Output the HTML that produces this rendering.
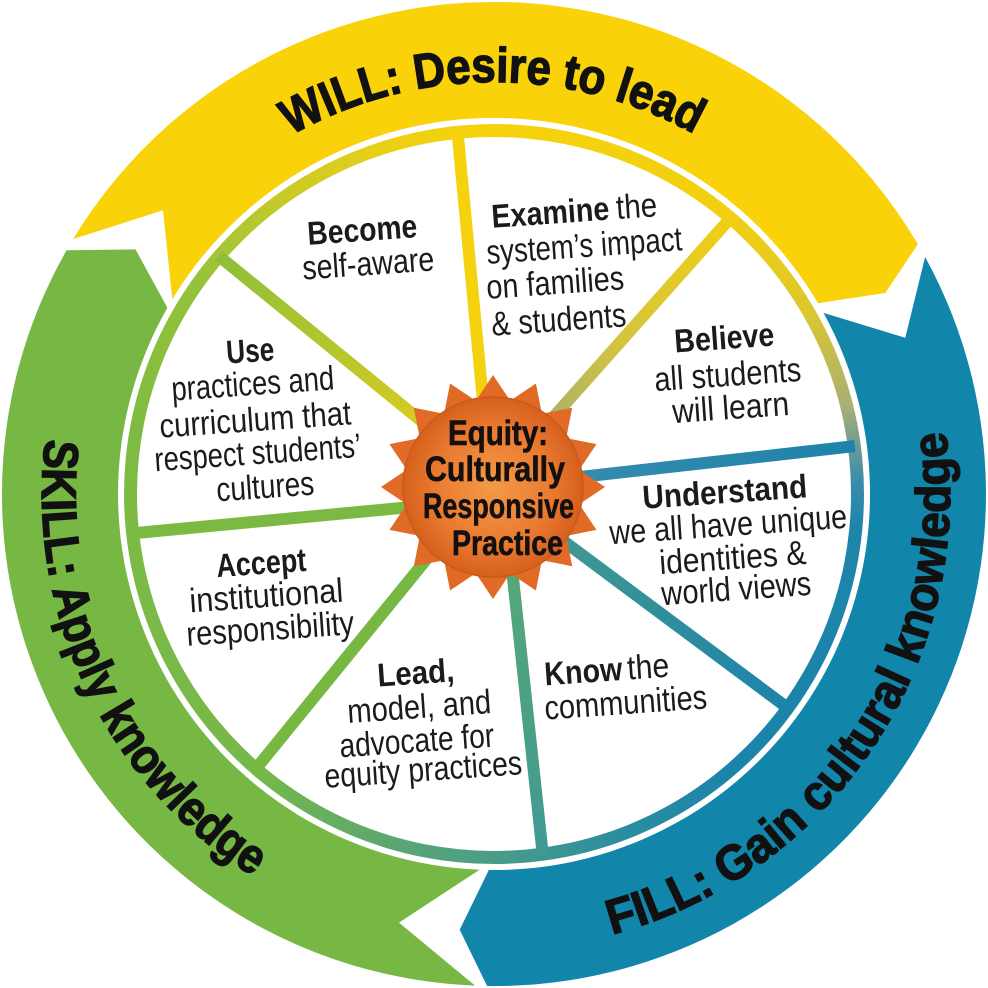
<!DOCTYPE html>
<html><head><meta charset="utf-8">
<style>
html,body{margin:0;padding:0;background:#fff;}
#wrap{position:relative;width:988px;height:988px;overflow:hidden;background:#fff;}
svg{position:absolute;left:0;top:0;}
#ring{position:absolute;left:124px;top:124px;width:740px;height:740px;border-radius:50%;
background:conic-gradient(from 0deg,#F6D20C 0deg,#F2D010 40deg,#DCC72C 60deg,#A9AF77 76deg,#3A8CAA 88deg,#1D84AA 96deg,#1C84AA 140deg,#2B8D9F 160deg,#4A9C8A 180deg,#5FA96C 200deg,#76B84A 220deg,#7EBB42 280deg,#95C23A 305deg,#C8CA28 325deg,#EDD013 345deg,#F6D20C 360deg);}
#inner{position:absolute;left:137px;top:137px;width:714px;height:714px;border-radius:50%;background:#fff;}
.b{font-family:"Liberation Sans",sans-serif;font-weight:bold;font-size:33px;fill:#1c1a1b;}
.r{font-family:"Liberation Sans",sans-serif;font-weight:normal;font-size:34px;fill:#1c1a1b;}
.s{font-family:"Liberation Sans",sans-serif;font-weight:bold;font-size:35px;fill:#141010;stroke:#141010;stroke-width:0.6px;}
.band{font-family:"Liberation Sans",sans-serif;font-weight:bold;font-size:49px;fill:#111;stroke:#111;stroke-width:1.4px;}
</style></head><body>
<div id="wrap">
<svg width="988" height="988" viewBox="0 0 988 988">
  <defs>
    <path id="pWill" d="M291.1,135.4 A412,412 0 0,1 809.6,229.2"/>
    <path id="pSkill" d="M45.4,438.9 A452,452 0 0,0 339.4,918.7"/>
    <path id="pFill" d="M612.0,934.5 A456,456 0 0,0 922.5,338.0"/>
  </defs>
  <path d="M73.1,239.1 A492,492 0 0,1 917.9,244.3 L885.3,292.9 L818.0,303.2 A376,376 0 0,0 172.3,299.2 L163.0,210.3 Z" fill="#FAD20A"/>
  <path d="M925.1,257.0 A492,492 0 0,1 487.1,986.0 L459.7,929.7 L488.8,870.0 A376,376 0 0,0 823.5,312.9 L905.3,337.8 Z" fill="#1285AB"/>
  <path d="M475.1,985.6 A492,492 0 0,1 66.6,250.2 L135.5,249.4 L167.4,307.7 A376,376 0 0,0 479.6,869.7 L399.0,922.6 Z" fill="#76B843"/>
  <text class="band"><textPath href="#pWill" textLength="421" lengthAdjust="spacingAndGlyphs">WILL: Desire to lead</textPath></text>
  <text class="band"><textPath href="#pSkill" textLength="511" lengthAdjust="spacingAndGlyphs">SKILL: Apply knowledge</textPath></text>
  <text class="band"><textPath href="#pFill" textLength="660" lengthAdjust="spacingAndGlyphs">FILL: Gain cultural knowledge</textPath></text>
</svg>
<div id="ring"></div>
<div id="inner"></div>
<svg width="988" height="988" viewBox="0 0 988 988">
  <defs>
    <linearGradient id="g1" gradientUnits="userSpaceOnUse" x1="489.5" y1="470" x2="457.5" y2="131.8"><stop offset="0" stop-color="#F4D10F"/><stop offset="1" stop-color="#F6D20C"/></linearGradient>
    <linearGradient id="g2" gradientUnits="userSpaceOnUse" x1="501" y1="476" x2="730.9" y2="217.6"><stop offset="0" stop-color="#8FA38E"/><stop offset="0.5" stop-color="#D2C43E"/><stop offset="1" stop-color="#F2CF12"/></linearGradient>
    <linearGradient id="g3" gradientUnits="userSpaceOnUse" x1="500" y1="486" x2="854.9" y2="446.1"><stop offset="0" stop-color="#3A8FB0"/><stop offset="1" stop-color="#1E82AA"/></linearGradient>
    <linearGradient id="g4" gradientUnits="userSpaceOnUse" x1="499" y1="493" x2="788.2" y2="708.3"><stop offset="0" stop-color="#4A9E8A"/><stop offset="1" stop-color="#1D83AA"/></linearGradient>
    <linearGradient id="g5" gradientUnits="userSpaceOnUse" x1="503.5" y1="490" x2="542.8" y2="854.7"><stop offset="0" stop-color="#5DAA70"/><stop offset="1" stop-color="#3F9A92"/></linearGradient>
    <linearGradient id="g8" gradientUnits="userSpaceOnUse" x1="479.7" y1="468.6" x2="218.7" y2="255.9"><stop offset="0" stop-color="#EACF1A"/><stop offset="1" stop-color="#8EBF3A"/></linearGradient>
    <radialGradient id="sunG" cx="0.5" cy="0.5" r="0.5"><stop offset="0" stop-color="#F39A48"/><stop offset="0.65" stop-color="#EA7A30"/><stop offset="1" stop-color="#D5601D"/></radialGradient>
  </defs>
  <g stroke-width="12" stroke-linecap="butt">
    <line x1="489.5" y1="470" x2="457.5" y2="131.8" stroke="url(#g1)"/>
    <line x1="501" y1="476" x2="730.9" y2="217.6" stroke="url(#g2)"/>
    <line x1="500" y1="486" x2="854.9" y2="446.1" stroke="url(#g3)"/>
    <line x1="499" y1="493" x2="788.2" y2="708.3" stroke="url(#g4)"/>
    <line x1="503.5" y1="490" x2="542.8" y2="854.7" stroke="url(#g5)"/>
    <line x1="478" y1="496" x2="255.6" y2="769.1" stroke="#77B843"/>
    <line x1="485" y1="500" x2="132.1" y2="533.4" stroke="#7BBA42"/>
    <line x1="479.7" y1="468.6" x2="218.7" y2="255.9" stroke="url(#g8)"/>
  </g>
  <polygon fill="#E06A26" points="493,375 510.2,400.7 535.9,383.5 541.9,413.8 572.2,407.8 566.2,438.1 596.5,444.1 579.3,469.8 605,487 579.3,504.2 596.5,529.9 566.2,535.9 572.2,566.2 541.9,560.2 535.9,590.5 510.2,573.3 493,599 475.8,573.3 450.1,590.5 444.1,560.2 413.8,566.2 419.8,535.9 389.5,529.9 406.7,504.2 381,487 406.7,469.8 389.5,444.1 419.8,438.1 413.8,407.8 444.1,413.8 450.1,383.5 475.8,400.7"/>
  <circle cx="493" cy="487" r="90" fill="url(#sunG)" stroke="#C95A1C" stroke-width="1.5"/>
  <text class="s" x="448" y="445" textLength="100" lengthAdjust="spacingAndGlyphs">Equity:</text>
  <text class="s" x="425" y="481" textLength="140" lengthAdjust="spacingAndGlyphs">Culturally</text>
  <text class="s" x="423" y="518" textLength="151" lengthAdjust="spacingAndGlyphs">Responsive</text>
  <text class="s" x="452" y="555" textLength="111" lengthAdjust="spacingAndGlyphs">Practice</text>

  <text class="b" x="308" y="241" textLength="110" lengthAdjust="spacingAndGlyphs" transform="rotate(-4 363 241)">Become</text>
  <text class="r" x="303" y="275" textLength="132" lengthAdjust="spacingAndGlyphs" transform="rotate(-4 369 275)">self-aware</text>

  <text class="b" x="492" y="222" textLength="118" lengthAdjust="spacingAndGlyphs" transform="rotate(-4 575 222)">Examine</text>
  <text class="r" x="617" y="222" textLength="41" lengthAdjust="spacingAndGlyphs" transform="rotate(-4 575 222)">the</text>
  <text class="r" x="487" y="257" textLength="196" lengthAdjust="spacingAndGlyphs" transform="rotate(-4 585 257)">system’s impact</text>
  <text class="r" x="487" y="294" textLength="138" lengthAdjust="spacingAndGlyphs" transform="rotate(-4 556 294)">on families</text>
  <text class="r" x="492" y="331" textLength="135" lengthAdjust="spacingAndGlyphs" transform="rotate(-4 559.5 331)">&amp; students</text>

  <text class="b" x="675" y="349" textLength="100" lengthAdjust="spacingAndGlyphs" transform="rotate(-4 725 349)">Believe</text>
  <text class="r" x="655" y="386" textLength="147" lengthAdjust="spacingAndGlyphs" transform="rotate(-4 728.5 386)">all students</text>
  <text class="r" x="673" y="419" textLength="117" lengthAdjust="spacingAndGlyphs" transform="rotate(-4 731.5 419)">will learn</text>

  <text class="b" x="227" y="362" textLength="48" lengthAdjust="spacingAndGlyphs" transform="rotate(-4 251 362)">Use</text>
  <text class="r" x="172" y="395" textLength="163" lengthAdjust="spacingAndGlyphs" transform="rotate(-4 253.5 395)">practices and</text>
  <text class="r" x="160" y="431" textLength="192" lengthAdjust="spacingAndGlyphs" transform="rotate(-4 256 431)">curriculum that</text>
  <text class="r" x="155" y="464" textLength="207" lengthAdjust="spacingAndGlyphs" transform="rotate(-4 258.5 464)">respect students’</text>
  <text class="r" x="217" y="498" textLength="98" lengthAdjust="spacingAndGlyphs" transform="rotate(-4 266 498)">cultures</text>

  <text class="b" x="217" y="574" textLength="90" lengthAdjust="spacingAndGlyphs" transform="rotate(-4 262 574)">Accept</text>
  <text class="r" x="190" y="607" textLength="154" lengthAdjust="spacingAndGlyphs" transform="rotate(-4 267 607)">institutional</text>
  <text class="r" x="187" y="640" textLength="168" lengthAdjust="spacingAndGlyphs" transform="rotate(-4 271 640)">responsibility</text>

  <text class="b" x="378" y="684" textLength="77" lengthAdjust="spacingAndGlyphs" transform="rotate(-4 416.5 684)">Lead,</text>
  <text class="r" x="348" y="718" textLength="144" lengthAdjust="spacingAndGlyphs" transform="rotate(-4 420 718)">model, and</text>
  <text class="r" x="340" y="752" textLength="155" lengthAdjust="spacingAndGlyphs" transform="rotate(-4 417.5 752)">advocate for</text>
  <text class="r" x="325" y="781" textLength="198" lengthAdjust="spacingAndGlyphs" transform="rotate(-4 424 781)">equity practices</text>

  <text class="b" x="545" y="681" textLength="78" lengthAdjust="spacingAndGlyphs" transform="rotate(-4 607.5 681)">Know</text>
  <text class="r" x="628" y="681" textLength="42" lengthAdjust="spacingAndGlyphs" transform="rotate(-4 607.5 681)">the</text>
  <text class="r" x="545" y="714" textLength="163" lengthAdjust="spacingAndGlyphs" transform="rotate(-4 626.5 714)">communities</text>

  <text class="b" x="643" y="503" textLength="165" lengthAdjust="spacingAndGlyphs" transform="rotate(-4 725.5 503)">Understand</text>
  <text class="r" x="610" y="536" textLength="238" lengthAdjust="spacingAndGlyphs" transform="rotate(-4 729 536)">we all have unique</text>
  <text class="r" x="660" y="569" textLength="147" lengthAdjust="spacingAndGlyphs" transform="rotate(-4 733.5 569)">identities &amp;</text>
  <text class="r" x="662" y="600" textLength="150" lengthAdjust="spacingAndGlyphs" transform="rotate(-4 737 600)">world views</text>
</svg>
</div>
</body></html>
